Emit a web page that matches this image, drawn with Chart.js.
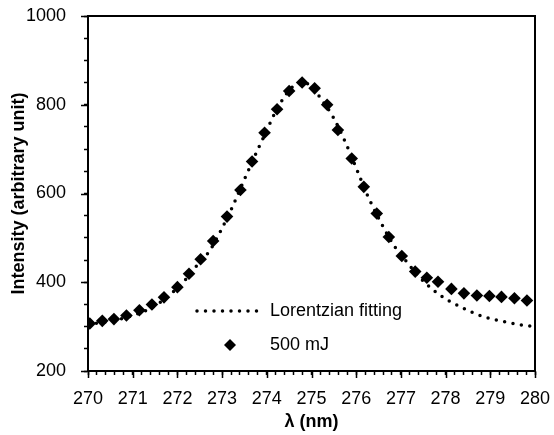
<!DOCTYPE html>
<html>
<head>
<meta charset="utf-8">
<script src="https://cdn.jsdelivr.net/npm/chart.js@4.4.1/dist/chart.umd.min.js"></script>
<style>
  html, body { margin: 0; padding: 0; background: #fff; }
  #wrap { width: 554px; height: 435px; }
</style>
</head>
<body>
<div id="wrap"><canvas id="c"></canvas></div>
<script>
const wavelengths = [270.04, 270.32, 270.58, 270.86, 271.15, 271.43, 271.70, 272.00, 272.26, 272.52,
  272.80, 273.11, 273.41, 273.67, 273.95, 274.23, 274.50, 274.79, 275.07, 275.35,
  275.59, 275.90, 276.17, 276.46, 276.73, 277.02, 277.32, 277.58, 277.83, 278.13,
  278.41, 278.70, 278.98, 279.25, 279.54, 279.82];
const intensity500 = [307, 313, 317, 325, 337, 350, 366, 389, 419, 452,
  493, 548, 608, 672, 737, 790, 831, 850, 837, 800,
  743, 679, 615, 555, 502, 459, 424, 410, 401, 385,
  375, 370, 369, 367, 364, 359];

// Lorentzian fit curve
const fitWavelengths = [270.0, 270.5, 271.0, 271.5, 271.9, 272.2, 272.5, 272.7, 272.96, 273.24,
  273.5, 273.76, 274.0, 274.12, 274.33, 274.55, 274.78, 275.0, 275.2, 275.48,
  275.76, 276.01, 276.26, 276.55, 276.85, 277.13, 277.44, 277.73, 278.08, 278.45,
  278.86, 279.28, 279.69, 280.0];
const fitIntensity = [305, 312, 325, 347, 378, 408, 446, 468, 514, 572,
  632, 691, 742, 769, 808, 838, 850, 842, 815, 773,
  715, 655, 594, 535, 482, 446, 409, 382, 358, 339,
  322, 312, 304, 300];

const xMajor = [270, 271, 272, 273, 274, 275, 276, 277, 278, 279, 280];
const yMajor = [200, 400, 600, 800, 1000];

const FONT = "'Liberation Sans Narrow', 'Arial Narrow', 'Liberation Sans', Arial, sans-serif";
const FS = 18;
const DOT_DASH = [0, 8.5];

const isMajor = (v, list) => list.some(m => Math.abs(m - v) < 1e-6);

// frame, longer major ticks and the in-plot legend
const framePlugin = {
  id: 'frame',
  afterDraw(chart) {
    const ctx = chart.ctx;
    const a = chart.chartArea;
    const xs = chart.scales.x, ys = chart.scales.y;
    ctx.save();
    ctx.strokeStyle = '#000';
    ctx.lineWidth = 2;
    ctx.strokeRect(a.left, a.top, a.right - a.left, a.bottom - a.top);

    ctx.lineWidth = 1.5;
    ctx.beginPath();
    xMajor.forEach(v => {
      const px = Math.round(xs.getPixelForValue(v)) + 0.5;
      ctx.moveTo(px, a.bottom);
      ctx.lineTo(px, a.bottom + 7);
    });
    yMajor.forEach(v => {
      const py = Math.round(ys.getPixelForValue(v)) + 0.5;
      ctx.moveTo(a.left, py);
      ctx.lineTo(a.left - 7, py);
    });
    ctx.stroke();

    // legend
    ctx.lineWidth = 3.5;
    ctx.lineCap = 'round';
    ctx.setLineDash(DOT_DASH);
    ctx.beginPath();
    ctx.moveTo(197, 311);
    ctx.lineTo(260, 311);
    ctx.stroke();
    ctx.setLineDash([]);

    ctx.fillStyle = '#000';
    ctx.beginPath();
    ctx.moveTo(230, 339);
    ctx.lineTo(236, 345);
    ctx.lineTo(230, 351);
    ctx.lineTo(224, 345);
    ctx.closePath();
    ctx.fill();

    ctx.font = FS + 'px ' + FONT;
    ctx.textBaseline = 'middle';
    ctx.textAlign = 'left';
    ctx.fillText('Lorentzian fitting', 270, 311);
    ctx.fillText('500 mJ', 270, 345);
    ctx.restore();
  }
};

new Chart(document.getElementById('c'), {
  type: 'scatter',
  data: {
    datasets: [
      {
        label: '500 mJ',
        data: wavelengths.map((x, i) => ({ x: x, y: intensity500[i] })),
        pointStyle: 'rectRot',
        pointRadius: 6.3,
        pointBackgroundColor: '#000',
        pointBorderColor: '#000',
        pointBorderWidth: 0,
        showLine: false
      },
      {
        label: 'Lorentzian fitting',
        data: fitWavelengths.map((x, i) => ({ x: x, y: fitIntensity[i] })),
        showLine: true,
        pointRadius: 0,
        borderColor: '#000',
        borderWidth: 3.5,
        borderDash: DOT_DASH,
        borderCapStyle: 'round',
        cubicInterpolationMode: 'monotone',
        fill: false
      }
    ]
  },
  options: {
    responsive: true,
    maintainAspectRatio: false,
    animation: false,
    layout: { padding: { left: 6, top: 16, right: 19, bottom: 0 } },
    plugins: {
      legend: { display: false },
      tooltip: { enabled: false }
    },
    scales: {
      x: {
        type: 'linear',
        min: 270,
        max: 280,
        afterFit: s => { s.height = 64; s.paddingLeft = 0; s.paddingRight = 0; },
        border: { display: true, color: '#000', width: 2 },
        grid: { drawOnChartArea: false, drawTicks: true, tickLength: 4, tickColor: '#000', tickWidth: 1.5 },
        ticks: {
          stepSize: 0.2,
          maxTicksLimit: 100,
          autoSkip: false,
          maxRotation: 0,
          color: '#000',
          padding: 13,
          font: { family: FONT, size: FS },
          callback: v => isMajor(v, xMajor) ? String(Math.round(v)) : ''
        },
        title: {
          display: true,
          text: 'λ (nm)',
          color: '#000',
          padding: { top: 0, bottom: 2 },
          font: { family: FONT, size: FS, weight: 'bold' }
        }
      },
      y: {
        type: 'linear',
        min: 200,
        max: 1000,
        afterFit: s => { s.width = 82; s.paddingTop = 0; s.paddingBottom = 0; },
        border: { display: true, color: '#000', width: 2 },
        grid: { drawOnChartArea: false, drawTicks: true, tickLength: 4, tickColor: '#000', tickWidth: 1.5 },
        ticks: {
          stepSize: 50,
          maxTicksLimit: 100,
          autoSkip: false,
          color: '#000',
          padding: 18,
          font: { family: FONT, size: FS },
          callback: v => isMajor(v, yMajor) ? String(v) : ''
        },
        title: {
          display: true,
          text: 'Intensity (arbitrary unit)',
          color: '#000',
          padding: { top: 2, bottom: 0 },
          font: { family: FONT, size: FS, weight: 'bold' }
        }
      }
    }
  },
  plugins: [framePlugin]
});
</script>
</body>
</html>
